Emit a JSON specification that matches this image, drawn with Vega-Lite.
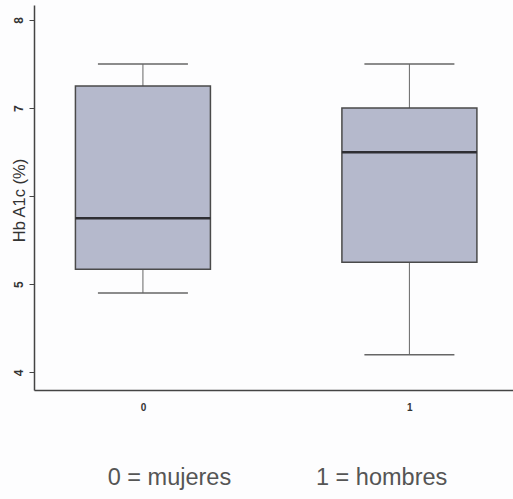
{
  "$schema": "https://vega.github.io/schema/vega-lite/v6.json",
  "autosize": "none",
  "width": 479,
  "height": 385,
  "padding": {"left": 34, "top": 5, "right": 0, "bottom": 109},
  "background": "#fdfdfe",
  "config": {"view": {"stroke": null}, "font": "Liberation Sans"},
  "data": {"values": [
    {"grupo": 0, "lower": 4.9, "q1": 5.17, "median": 5.75, "q3": 7.25, "upper": 7.5},
    {"grupo": 1, "lower": 4.2, "q1": 5.25, "median": 6.5, "q3": 7.0, "upper": 7.5}
  ]},
  "encoding": {
    "x": {
      "field": "grupo", "type": "quantitative",
      "scale": {"domain": [-0.39, 1.37], "nice": false, "zero": false},
      "axis": {
        "values": [0, 1], "format": "d", "grid": false, "ticks": false, "domainColor": "#444", "domainWidth": 1.5,
        "labelFontSize": 10, "labelFontWeight": "bold", "labelColor": "#333", "labelPadding": 12,
        "title": "0 = mujeres\u00a0\u00a0\u00a0\u00a0\u00a0\u00a0\u00a0\u00a0\u00a0\u00a0\u00a0\u00a0\u00a01 = hombres",
        "titleFontSize": 23.5, "titleFontWeight": "normal", "titleColor": "#555", "titlePadding": 53, "titleX": 243
      }
    }
  },
  "layer": [
    {
      "mark": {"type": "rule", "color": "#666", "strokeWidth": 1},
      "encoding": {
        "y": {
          "field": "lower", "type": "quantitative",
          "scale": {"domain": [3.8, 8.17], "nice": false, "zero": false},
          "axis": {
            "values": [4, 5, 6, 7, 8], "format": "d", "grid": false, "tickSize": 5, "tickColor": "#444", "domainColor": "#444", "domainWidth": 1.5,
            "labelAngle": -90, "labelFontSize": 12, "labelFontWeight": "bold", "labelColor": "#333", "labelPadding": 4,
            "labelExpr": "datum.value == 6 ? '' : datum.label",
            "title": "Hb A1c (%)", "titleFontSize": 16.5, "titleFontWeight": "normal", "titleColor": "#333",
            "titleX": -15, "titleY": 195, "titleAngle": -90, "titleBaseline": "middle"
          }
        },
        "y2": {"field": "q1"}
      }
    },
    {
      "mark": {"type": "rule", "color": "#666", "strokeWidth": 1},
      "encoding": {"y": {"field": "q3", "type": "quantitative"}, "y2": {"field": "upper"}}
    },
    {
      "mark": {"type": "bar", "width": 135, "fill": "#b5b9cc", "stroke": "#4a4a4a", "strokeWidth": 1.5},
      "encoding": {"y": {"field": "q1", "type": "quantitative"}, "y2": {"field": "q3"}}
    },
    {
      "mark": {"type": "tick", "orient": "horizontal", "size": 135, "thickness": 2.5, "color": "#2e2e33", "opacity": 1},
      "encoding": {"y": {"field": "median", "type": "quantitative"}}
    },
    {
      "mark": {"type": "tick", "orient": "horizontal", "size": 90, "thickness": 1.5, "color": "#666", "opacity": 1},
      "encoding": {"y": {"field": "lower", "type": "quantitative"}}
    },
    {
      "mark": {"type": "tick", "orient": "horizontal", "size": 90, "thickness": 1.5, "color": "#666", "opacity": 1},
      "encoding": {"y": {"field": "upper", "type": "quantitative"}}
    }
  ]
}
